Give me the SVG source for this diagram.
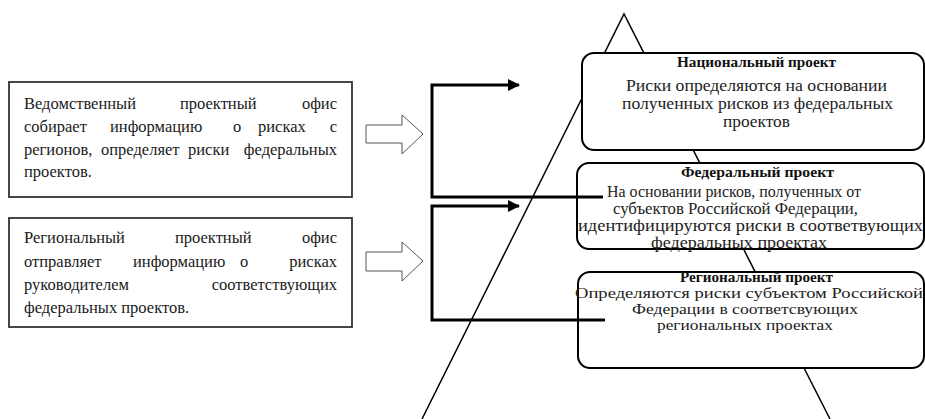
<svg xmlns="http://www.w3.org/2000/svg" width="925" height="419" viewBox="0 0 925 419">
<style>
.lt{font-family:"Liberation Serif","Times New Roman",serif;font-size:16.5px;fill:#1a1a1a}
.rt{font-family:"Liberation Serif","Times New Roman",serif;font-size:16px;fill:#222}
.rs{font-family:"Liberation Serif","Times New Roman",serif;font-size:15px;fill:#222}
.ttl{font-family:"Liberation Serif","Times New Roman",serif;font-size:14px;font-weight:bold;fill:#111}
.lbox{fill:#fff;stroke:#333;stroke-width:1.8}
.rbox{fill:#fff;stroke:#000;stroke-width:2}
.blk{fill:#fff;stroke:#555;stroke-width:1}
.tri{fill:none;stroke:#000;stroke-width:1.5}
.con{fill:none;stroke:#000;stroke-width:3}
</style>
<defs>
<marker id="ah" markerWidth="12" markerHeight="12" refX="11" refY="6" orient="auto" markerUnits="userSpaceOnUse">
<path d="M0,0 L12,6 L0,12 Z" fill="#000"/>
</marker>
</defs>
<rect width="925" height="419" fill="#fff"/>
<g id="pyramid">
<polyline class="tri" points="422,419 624,14 830,419"/>
</g>
<g id="office-dept">
<rect class="lbox" x="9" y="82" width="343" height="115"/>
<text class="lt" y="109"><tspan x="24">Ведомственный</tspan><tspan x="180">проектный</tspan><tspan x="337" text-anchor="end">офис</tspan></text>
<text class="lt" y="132"><tspan x="24">собирает</tspan><tspan x="110">информацию</tspan><tspan x="233">о</tspan><tspan x="258">рисках</tspan><tspan x="337" text-anchor="end">с</tspan></text>
<text class="lt" y="155"><tspan x="24">регионов,</tspan><tspan x="101">определяет</tspan><tspan x="188">риски</tspan><tspan x="337" text-anchor="end">федеральных</tspan></text>
<text class="lt" x="24" y="177">проектов.</text>
</g>
<g id="office-reg">
<rect class="lbox" x="9" y="218" width="343" height="109"/>
<text class="lt" y="243"><tspan x="24">Региональный</tspan><tspan x="175">проектный</tspan><tspan x="337" text-anchor="end">офис</tspan></text>
<text class="lt" y="267"><tspan x="24">отправляет</tspan><tspan x="133">информацию</tspan><tspan x="240">о</tspan><tspan x="337" text-anchor="end">рисках</tspan></text>
<text class="lt" y="290"><tspan x="24">руководителем</tspan><tspan x="337" text-anchor="end">соответствующих</tspan></text>
<text class="lt" x="24" y="313">федеральных проектов.</text>
</g>
<g id="block-arrow-1">
<path class="blk" d="M366,125 H402 V115 L423,134 L402,154 V143 H366 Z"/>
</g>
<g id="block-arrow-2">
<path class="blk" d="M366,252 H402 V242 L423,261 L402,281 V271 H366 Z"/>
</g>
<g id="national">
<rect class="rbox" x="582" y="53" width="342" height="97" rx="12"/>
<text class="ttl" x="677" y="67" textLength="159" lengthAdjust="spacingAndGlyphs">Национальный проект</text>
<text class="rt" x="626" y="91" textLength="261" lengthAdjust="spacingAndGlyphs">Риски определяются на основании</text>
<text class="rt" x="622" y="109" textLength="271" lengthAdjust="spacingAndGlyphs">полученных рисков из федеральных</text>
<text class="rt" x="723" y="127" textLength="67" lengthAdjust="spacingAndGlyphs">проектов</text>
</g>
<g id="federal">
<rect class="rbox" x="577" y="163" width="347" height="86" rx="12"/>
<text class="ttl" x="681" y="177" textLength="153" lengthAdjust="spacingAndGlyphs">Федеральный проект</text>
<text class="rt" x="607" y="197" textLength="254" lengthAdjust="spacingAndGlyphs">На основании рисков, полученных от</text>
<text class="rt" x="613" y="214" textLength="245" lengthAdjust="spacingAndGlyphs">субъектов Российской Федерации,</text>
<text class="rt" x="578" y="231" textLength="345" lengthAdjust="spacingAndGlyphs">идентифицируются риски в соответвующих</text>
<text class="rt" x="651" y="248" textLength="176" lengthAdjust="spacingAndGlyphs">федеральных проектах</text>
</g>
<g id="regional">
<rect class="rbox" x="578" y="272" width="346" height="96" rx="12"/>
<text class="ttl" x="680" y="282" textLength="153" lengthAdjust="spacingAndGlyphs">Региональный проект</text>
<text class="rs" x="575" y="298" textLength="348" lengthAdjust="spacingAndGlyphs">Определяются риски субъектом Российской</text>
<text class="rs" x="632" y="314" textLength="226" lengthAdjust="spacingAndGlyphs">Федерации в соответсвующих</text>
<text class="rs" x="657" y="330" textLength="176" lengthAdjust="spacingAndGlyphs">региональных проектах</text>
</g>
<g id="connectors">
<polyline class="con" points="603,197 432,197 432,85 519,85" marker-end="url(#ah)"/>
<polyline class="con" points="605,320 432,320 432,206 519,206" marker-end="url(#ah)"/>
</g>
</svg>
